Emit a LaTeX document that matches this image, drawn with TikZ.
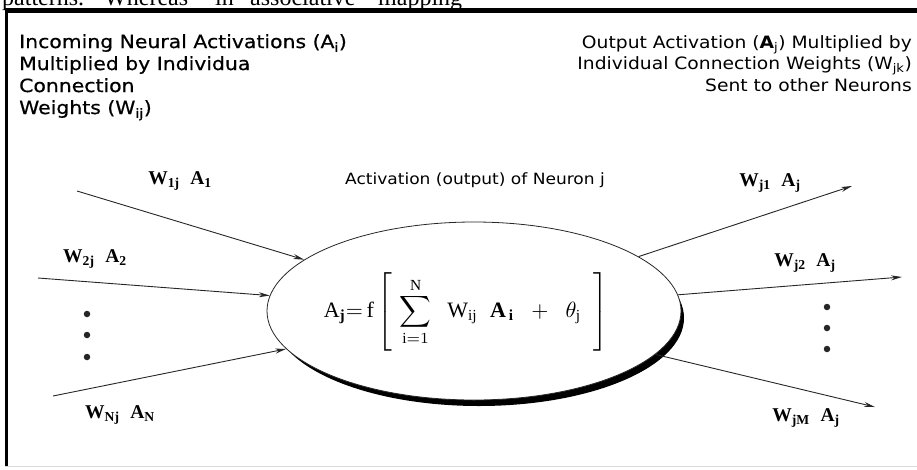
\documentclass[tikz,border=0pt]{standalone}
\usepackage{fontspec}
\setmainfont{Liberation Serif}
\newfontfamily\dvsL[FakeStretch=1.12,FakeBold=0.6]{DejaVu Sans}
\newfontfamily\dvsR[FakeStretch=1.10]{DejaVu Sans}
\usetikzlibrary{arrows.meta,shapes.geometric}
\tikzset{
  conn/.style={draw=black!85, line width=0.9pt, -{Stealth[length=11pt,width=5pt]}},
  wlabel/.style={inner sep=0pt, font=\fontsize{19.5}{21}\selectfont\bfseries},
  vdot/.style={circle, fill=black!85, inner sep=0pt, minimum size=6.5pt},
  cropword/.style={anchor=base west, inner sep=0pt, font=\fontsize{24}{26}\selectfont},
}
\newcommand{\wl}[2]{W\textsubscript{#1}\hspace{0.55em}A\textsubscript{#2}}
\begin{document}
\begin{tikzpicture}[x=1pt,y=-1pt]
\useasboundingbox (0,0) rectangle (917,469);
\clip (0,0) rectangle (917,469);
% cropped line of text above the frame
\node[cropword] (w1) at (2,5) {patterns.};
\node[cropword] (w2) at (104,5) {Whereas};
\node[cropword] (w3) at (215,5) {in};
\node[cropword] (w4) at (250,5) {associative};
\node[cropword] (w5) at (378,5) {mapping};
% frame
\draw[line width=4.2pt] (5,10.5) -- (917,10.5);
\draw[line width=3pt] (6.5,9) -- (6.5,467);
\draw[black!15, line width=1pt] (5,466.5) -- (917,466.5);
% header texts
\node[anchor=north west, align=left, inner sep=0pt,
      font=\dvsL\fontsize{18.2}{22}\selectfont] (intext) at (19,34)
  {Incoming Neural Activations (A\textsubscript{i})\\
   Multiplied by Individua\\
   Connection\\
   Weights (W\textsubscript{ij})};
\node[anchor=north east, align=right, inner sep=0pt,
      font=\dvsR\fontsize{17}{21.5}\selectfont] (outtext) at (912,35)
  {Output Activation (\textbf{A}\textsubscript{j}) Multiplied by\\
   Individual Connection Weights (W\textsubscript{jk})\\
   Sent to other Neurons};
\node[inner sep=0pt, font=\dvsR\fontsize{15.5}{18}\selectfont] (acttext) at (475,180)
  {Activation (output) of Neuron j};
% neuron
\fill[black] (479,318) ellipse [x radius=205, y radius=88];
\node[ellipse, draw=black!85, line width=0.8pt, fill=white, inner sep=0pt,
      minimum width=414pt, minimum height=178pt] (neuron) at (474,311) {};
\node[inner sep=0pt] (eq) at (466,312)
  {\scalebox{2.2}{\fontsize{10}{12}\selectfont$\displaystyle \mathrm{A}_{\mathbf{j}}{=}\,\mathrm{f}\left[\rule[-15pt]{0pt}{35pt}\,\sum_{\mathrm{i}=1}^{\mathrm{N}}\;\;\mathrm{W}_{\mathrm{ij}}\;\;\mathbf{A}_{\,\mathbf{i}}\;\;+\;\;\theta_{\mathrm{j}}\;\;\right]$}};
% inputs
\coordinate (i1) at (77,191);
\coordinate (i2) at (38,278);
\coordinate (i3) at (53,396);
\draw[conn] (i1) -- (neuron);
\draw[conn] (i2) -- (neuron);
\draw[conn] (i3) -- (neuron);
\node[wlabel] (li1) at (180,181) {\wl{1j}{1}};
\node[wlabel] (li2) at (95,259) {\wl{2j}{2}};
\node[wlabel] (li3) at (120,415) {\wl{Nj}{N}};
\node[vdot] (dl1) at (87,314) {};
\node[vdot] (dl2) at (87,335) {};
\node[vdot] (dl3) at (87,357) {};
% outputs
\coordinate (o1) at (852,186);
\coordinate (o2) at (902,277);
\coordinate (o3) at (875,407);
\draw[conn] (neuron) -- (o1);
\draw[conn] (neuron) -- (o2);
\draw[conn] (neuron) -- (o3);
\node[wlabel] (lo1) at (770,183) {\wl{j1}{j}};
\node[wlabel] (lo2) at (805,263) {\wl{j2}{j}};
\node[wlabel] (lo3) at (806,418) {\wl{jM}{j}};
\node[vdot] (dr1) at (827,307) {};
\node[vdot] (dr2) at (827,328) {};
\node[vdot] (dr3) at (827,349) {};
\end{tikzpicture}
\end{document}
